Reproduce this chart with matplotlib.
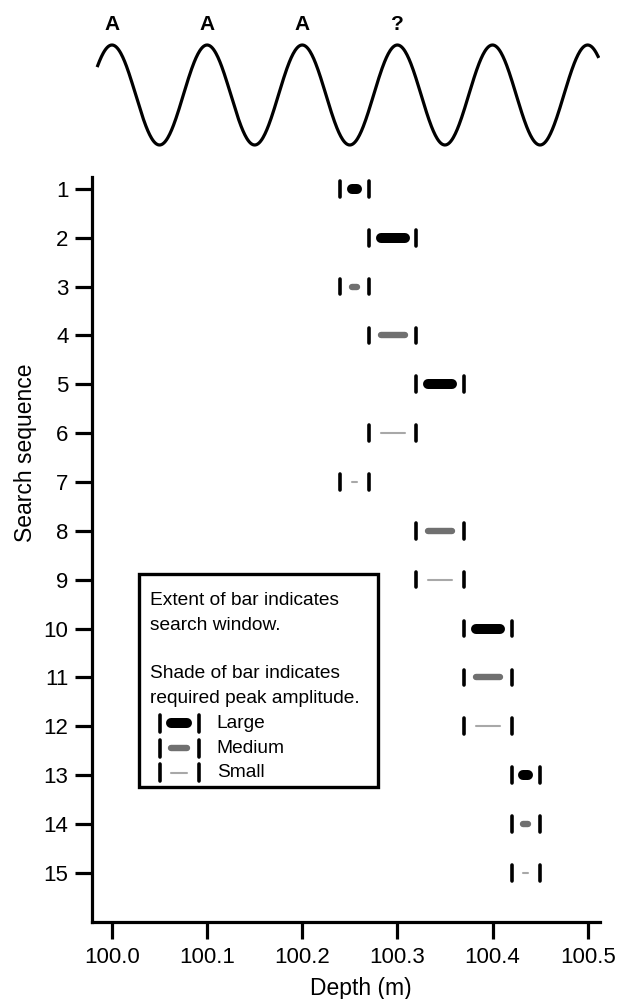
import matplotlib
matplotlib.use('Agg')
import matplotlib.pyplot as plt
import numpy as np
from matplotlib.patches import Rectangle

plt.rcParams['font.family'] = ['Liberation Sans', 'DejaVu Sans']

# search windows (depth, m) for each step of the search sequence
sequence = list(range(1, 16))
window_start = [100.24, 100.27, 100.24, 100.27, 100.32, 100.27, 100.24, 100.32,
                100.32, 100.37, 100.37, 100.37, 100.42, 100.42, 100.42]
window_end = [100.27, 100.32, 100.27, 100.32, 100.37, 100.32, 100.27, 100.37,
              100.37, 100.42, 100.42, 100.42, 100.45, 100.45, 100.45]
amplitude = ['Large', 'Large', 'Medium', 'Medium', 'Large', 'Small', 'Small', 'Medium',
             'Small', 'Large', 'Medium', 'Small', 'Large', 'Medium', 'Small']

# schematic wave on top
peak_depths = [100.0, 100.1, 100.2, 100.3]
peak_labels = ['A', 'A', 'A', '?']
wave_period = 0.1

xticks = [100.0, 100.1, 100.2, 100.3, 100.4, 100.5]
xlim = (99.979, 100.513)

styles = {'Large': ('black', 7.2), 'Medium': ('#707070', 4.6), 'Small': ('#a8a8a8', 1.5)}
pad = 0.0125   # gap between window caps and the shaded bar
cap_h = 0.16

fig = plt.figure(figsize=(6.31, 9.99), dpi=100)

# wave panel
wax = fig.add_axes([92/631, 1 - 160/999, 508/631, 150/999])
xw = np.linspace(99.985, 100.511, 800)
wax.plot(xw, np.cos(2*np.pi*(xw - peak_depths[0])/wave_period), color='black', lw=2.3)
for d, lab in zip(peak_depths, peak_labels):
    wax.text(d, 1.42, lab, ha='center', va='center', fontsize=15, fontweight='bold')
wax.set_xlim(xlim)
wax.set_ylim(-1.3, 1.7)
wax.axis('off')

# main panel
ax = fig.add_axes([92/631, 77.4/999, 508/631, 744.9/999])

for y, s, e, a in zip(sequence, window_start, window_end, amplitude):
    for xc in (s, e):
        ax.plot([xc, xc], [y - cap_h, y + cap_h], color='black', lw=2.6, solid_capstyle='round')
    c, lw = styles[a]
    ax.plot([s + pad, e - pad], [y, y], color=c, lw=lw, solid_capstyle='round')

# legend box
fs = 13.8
ax.add_patch(Rectangle((100.028, 8.89), 0.252, 4.36, fill=False, lw=2.4, ec='black', zorder=5))
ax.text(100.040, 9.42, 'Extent of bar indicates', fontsize=fs, va='center')
ax.text(100.040, 9.93, 'search window.', fontsize=fs, va='center')
ax.text(100.040, 10.92, 'Shade of bar indicates', fontsize=fs, va='center')
ax.text(100.040, 11.43, 'required peak amplitude.', fontsize=fs, va='center')
leg_y = [11.94, 12.45, 12.95]
for y, a in zip(leg_y, ['Large', 'Medium', 'Small']):
    s, e = 100.050, 100.091
    for xc in (s, e):
        ax.plot([xc, xc], [y - 0.17, y + 0.17], color='black', lw=2.6, solid_capstyle='round')
    c, lw = styles[a]
    ax.plot([s + pad, e - pad], [y, y], color=c, lw=lw, solid_capstyle='round')
    ax.text(100.110, y, a, fontsize=fs, va='center')

ax.set_xlim(xlim)
ax.set_ylim(16, 0.75)
ax.set_yticks(sequence)
ax.set_xticks(xticks)
ax.set_xticklabels(['%.1f' % t for t in xticks])
for sp in ['top', 'right']:
    ax.spines[sp].set_visible(False)
for sp in ['left', 'bottom']:
    ax.spines[sp].set_linewidth(2.3)
ax.tick_params(axis='both', length=12, width=2.3, labelsize=16)
ax.tick_params(axis='x', pad=6)
ax.tick_params(axis='y', pad=5)
ax.set_xlabel('Depth (m)', fontsize=16.5)
ax.set_ylabel('Search sequence', fontsize=16.5)
ax.xaxis.set_label_coords(0.53, -0.074)
ax.yaxis.set_label_coords(-0.108, 0.63)

fig.savefig('out.png', dpi=100)
